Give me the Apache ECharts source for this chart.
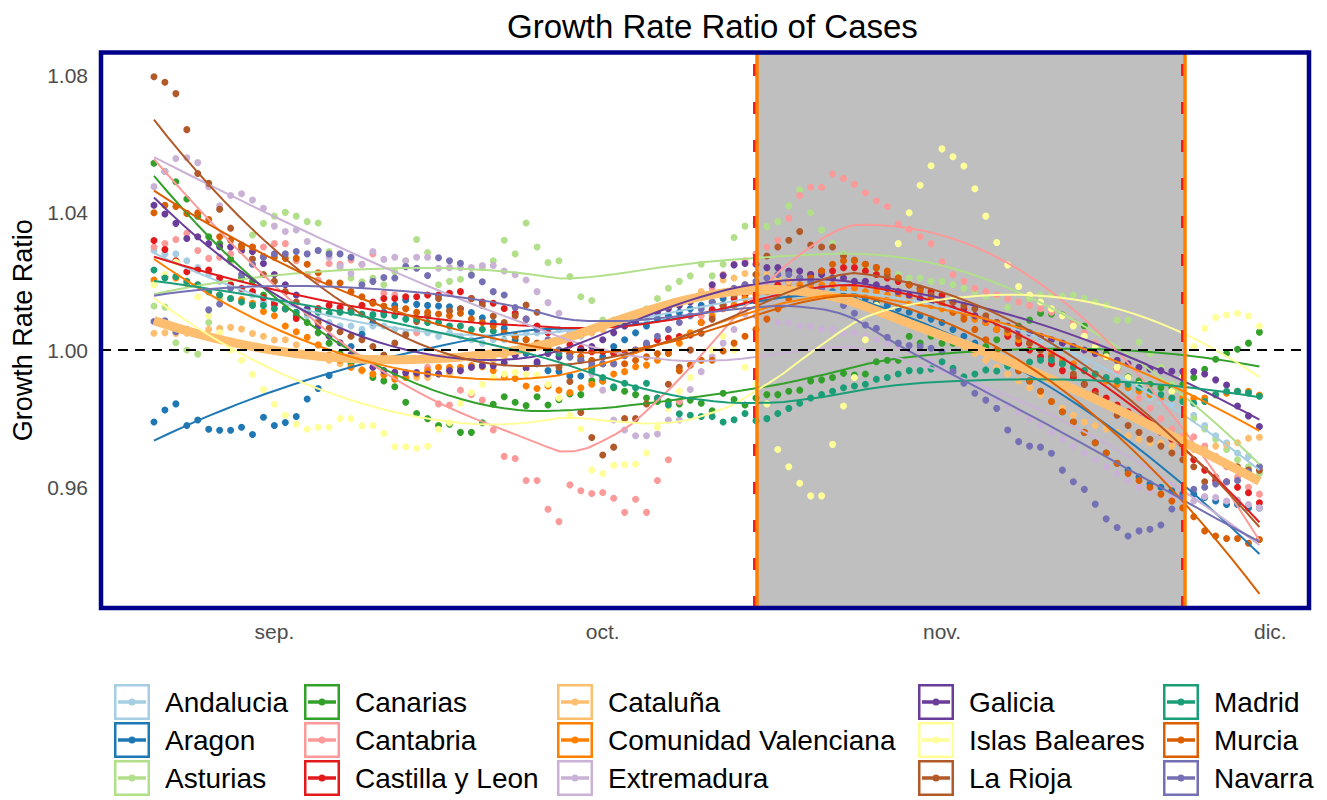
<!DOCTYPE html>
<html><head><meta charset="utf-8">
<script src="https://cdn.jsdelivr.net/npm/echarts@6/dist/echarts.min.js"></script>
<style>html,body{margin:0;padding:0;background:#fff}#c{width:1327px;height:800px}</style>
</head><body><div id="c"></div>
<script>
// Day index 0 = 21 Aug 2020 ... 101 = 30 Nov 2020
const regions = ['Andalucia','Aragon','Asturias','Canarias','Cantabria','Castilla y Leon','Cataluña','Comunidad Valenciana','Extremadura','Galicia','Islas Baleares','La Rioja','Madrid','Murcia','Navarra'];
const colors = ['#A6CEE3','#1F78B4','#B2DF8A','#33A02C','#FB9A99','#E31A1C','#FDBF6F','#FF7F00','#CAB2D6','#6A3D9A','#FFFF99','#B15928','#1B9E77','#D95F02','#7570B3'];
const xTickDays = [11, 41, 72, 102];
const xTickLabels = ['sep.', 'oct.', 'nov.', 'dic.'];
const yTicks = [0.96, 1.00, 1.04, 1.08];
const shadeStart = 55.05, shadeEnd = 94.15;

const andalucia = [1.029,1.028,1.028,1.026,1.024,1.022,1.020,1.019,1.017,1.016,
 1.014,1.013,1.012,1.011,1.010,1.009,1.008,1.007,1.007,1.006,
 1.007,1.007,1.006,1.005,1.006,1.005,1.004,1.005,1.004,1.003,
 1.002,1.003,1.003,1.004,1.005,1.005,1.006,1.006,1.005,1.004,
 1.005,1.006,1.007,1.008,1.008,1.009,1.010,1.010,1.010,1.010,
 1.011,1.012,1.013,1.014,1.015,1.016,1.017,1.018,1.018,1.019,
 1.019,1.019,1.019,1.019,1.018,1.018,1.017,1.017,1.016,1.016,
 1.015,1.014,1.013,1.012,1.011,1.010,1.009,1.008,1.007,1.006,
 1.005,1.003,1.002,1.000,0.998,0.996,0.994,0.992,0.990,0.988,
 0.987,0.986,0.985,0.984,0.983,0.981,0.978,0.975,0.973,0.970,
 0.969,0.966];
const aragon = [0.979,0.9825,0.9843,0.978,0.9796,0.9769,0.9766,0.9766,0.9775,0.9754,
 0.9804,0.978,0.9789,0.9806,0.9857,0.9888,0.9926,0.997,1.001,1.0046,
 1.008,1.011,1.013,1.0146,1.0133,1.013,1.0128,1.0126,1.012,1.0109,
 1.0094,1.008,1.0063,1.003,0.999,0.996,0.994,0.9937,0.9924,0.9924,
 0.995,0.998,1.001,1.003,1.005,1.007,1.009,1.010,1.011,1.012,
 1.013,1.014,1.015,1.016,1.017,1.017,1.018,1.018,1.018,1.018,
 1.018,1.018,1.017,1.017,1.016,1.015,1.014,1.013,1.012,1.011,
 1.010,1.009,1.008,1.006,1.004,1.002,1.000,0.998,0.996,0.994,
 0.991,0.988,0.985,0.982,0.979,0.976,0.973,0.970,0.967,0.965,
 0.963,0.961,0.960,0.959,0.958,0.958,0.957,0.956,0.955,0.955,
 0.954,0.954];
const asturias = [1.0128,1.0125,1.0021,1.000,0.9988,1.008,1.015,1.0256,1.030,1.0335,
 1.0369,1.039,1.0401,1.039,1.0374,1.037,1.0287,1.024,1.021,1.0199,
 1.021,1.019,1.0228,1.026,1.0322,1.0284,1.019,1.020,1.0206,1.022,
 1.024,1.026,1.032,1.028,1.037,1.030,1.0255,1.026,1.0214,1.0155,
 1.0144,1.0087,1.0087,1.007,1.009,1.012,1.015,1.018,1.020,1.0216,
 1.025,1.0216,1.025,1.0328,1.0361,1.037,1.036,1.0374,1.042,1.0467,
 1.040,1.035,1.031,1.028,1.026,1.024,1.023,1.022,1.022,1.021,
 1.021,1.020,1.020,1.019,1.018,1.017,1.0157,1.0157,1.0124,1.014,
 1.015,1.016,1.016,1.0157,1.016,1.015,1.014,1.013,1.0087,1.0087,
 1.0023,0.999,0.995,0.990,0.985,0.980,0.977,0.974,0.971,0.968,
 0.966,0.964];
const canarias = [1.0544,1.052,1.049,1.044,1.039,1.033,1.031,1.0265,1.021,1.020,
 1.016,1.014,1.012,1.010,1.008,1.005,1.002,0.999,0.996,0.994,
 0.992,0.991,0.9893,0.9848,0.9815,0.980,0.978,0.9784,0.976,0.976,
 0.9788,0.9842,0.9864,0.9848,0.9838,0.9864,0.984,0.9855,0.9872,0.987,
 0.991,0.991,0.989,0.988,0.987,0.986,0.985,0.985,0.9843,0.9854,
 0.9845,0.9823,0.9874,0.9856,0.984,0.986,0.987,0.987,0.988,0.9883,
 0.991,0.9913,0.992,0.9932,0.9927,0.993,0.9966,0.997,0.997,1.004,
 1.002,1.004,1.002,1.002,1.001,1.000,1.001,1.003,1.005,1.007,
 1.0087,1.0107,1.0105,1.0102,1.008,1.007,1.001,0.999,0.9947,0.9922,
 0.991,0.990,0.989,0.989,0.990,0.992,0.9944,0.9973,0.999,1.0002,
 1.002,1.0052];
const cantabria = [1.030,1.031,1.0322,1.034,1.029,1.0267,1.027,1.028,1.029,1.030,
 1.030,1.031,1.031,1.026,1.022,1.0204,1.0252,1.025,1.0262,1.025,
 1.028,1.0165,1.016,1.012,1.005,0.995,0.9843,0.984,0.9883,0.987,
 0.9854,0.9767,0.969,0.9684,0.962,0.962,0.9536,0.950,0.9607,0.959,
 0.9582,0.9585,0.9568,0.9527,0.9565,0.9527,0.962,0.968,0.985,1.000,
 1.010,1.018,1.022,1.025,1.026,1.028,1.030,1.032,1.0384,1.045,
 1.0474,1.0474,1.0513,1.050,1.0483,1.0458,1.0435,1.0418,1.0367,1.0352,
 1.033,1.031,1.0257,1.022,1.020,1.018,1.017,1.016,1.015,1.014,
 1.013,1.012,1.011,1.010,1.008,1.005,1.002,0.998,0.994,0.990,
 0.986,0.983,0.980,0.977,0.975,0.9747,0.972,0.969,0.966,0.963,
 0.960,0.958];
const castillaYLeon = [1.0319,1.0293,1.026,1.0228,1.0233,1.0233,1.021,1.019,1.018,1.017,
 1.0152,1.0133,1.012,1.0092,1.011,1.0121,1.013,1.0124,1.0117,1.013,
 1.014,1.015,1.015,1.0155,1.0155,1.016,1.016,1.0165,1.017,1.015,
 1.014,1.0136,1.0121,1.0107,1.009,1.007,1.005,1.0029,1.0015,1.0005,
 0.9995,0.9995,0.999,0.9988,1.000,1.0015,1.0029,1.0034,1.0039,1.0044,
 1.008,1.0117,1.013,1.015,1.016,1.017,1.018,1.019,1.020,1.021,
 1.022,1.023,1.023,1.024,1.024,1.023,1.022,1.021,1.020,1.019,
 1.018,1.017,1.016,1.014,1.012,1.010,1.008,1.006,1.004,1.002,
 1.000,0.998,0.996,0.994,0.992,0.990,0.988,0.986,0.984,0.982,
 0.980,0.978,0.976,0.974,0.972,0.968,0.965,0.962,0.9616,0.960,
 0.9584,0.9555];
const cataluna = [1.0049,1.005,1.0048,1.0049,1.005,1.006,1.0063,1.0066,1.0061,1.0048,
 1.004,1.0029,1.003,1.0015,0.999,0.998,0.997,0.996,0.995,0.994,
 0.993,0.993,0.992,0.992,0.992,0.992,0.993,0.993,0.994,0.995,
 0.996,0.997,0.998,0.999,1.000,1.001,1.002,1.003,1.004,1.0044,
 1.005,1.006,1.007,1.008,1.009,1.010,1.011,1.012,1.0136,1.015,
 1.017,1.019,1.0204,1.021,1.0223,1.022,1.022,1.021,1.020,1.019,
 1.018,1.017,1.016,1.015,1.014,1.013,1.012,1.011,1.010,1.009,
 1.008,1.006,1.005,1.003,1.001,0.999,0.997,0.995,0.993,0.991,
 0.989,0.987,0.985,0.983,0.981,0.979,0.978,0.977,0.976,0.975,
 0.974,0.973,0.973,0.972,0.972,0.971,0.971,0.972,0.9723,0.973,
 0.9743,0.9746];
const comunidadValenciana = [1.0204,1.0214,1.021,1.0194,1.019,1.017,1.016,1.015,1.0147,1.0136,
 1.0112,1.010,1.007,1.0053,1.0037,1.0015,0.9985,0.997,0.995,0.9942,
 0.993,0.9927,0.9915,0.992,0.993,0.994,0.995,0.995,0.995,0.9955,
 0.9951,0.994,0.9922,0.9917,0.9895,0.9888,0.9895,0.9883,0.9876,0.989,
 0.990,0.991,0.993,0.9937,0.9951,0.9956,0.997,0.999,1.002,1.005,
 1.008,1.010,1.012,1.013,1.015,1.016,1.017,1.018,1.018,1.019,
 1.019,1.019,1.019,1.018,1.018,1.017,1.017,1.016,1.016,1.015,
 1.014,1.013,1.012,1.011,1.010,1.009,1.008,1.006,1.005,1.003,
 1.002,1.000,0.999,0.997,0.996,0.994,0.993,0.991,0.990,0.989,
 0.988,0.987,0.986,0.986,0.986,0.9859,0.986,0.987,0.9874,0.988,
 0.988,0.9869];
const extremadura = [1.0476,1.052,1.0558,1.056,1.0546,1.0476,1.042,1.045,1.0455,1.0437,
 1.0413,1.0361,1.0345,1.035,1.0316,1.029,1.027,1.0245,1.0223,1.025,
 1.0287,1.0264,1.027,1.026,1.027,1.027,1.0238,1.024,1.024,1.024,
 1.0246,1.0246,1.023,1.0219,1.0204,1.017,1.0138,1.0107,1.005,0.998,
 0.993,0.9883,0.9796,0.9767,0.975,0.975,0.9755,0.9796,0.9796,0.9885,
 0.9937,0.998,1.002,1.006,1.0105,1.010,1.009,1.008,1.008,1.007,
 1.007,1.006,1.006,1.005,1.005,1.004,1.003,1.002,1.001,1.000,
 0.999,0.997,0.996,0.994,0.992,0.990,0.988,0.986,0.984,0.982,
 0.980,0.978,0.976,0.974,0.972,0.970,0.968,0.966,0.964,0.962,
 0.960,0.959,0.958,0.957,0.956,0.956,0.9573,0.957,0.956,0.9563,
 0.955,0.954];
const galicia = [1.0422,1.0396,1.0369,1.0325,1.033,1.031,1.0301,1.030,1.029,1.0287,
 1.0252,1.022,1.019,1.016,1.012,1.0068,1.004,1.0021,0.9987,0.997,
 0.995,0.994,0.9935,0.9934,0.9934,0.993,0.993,0.994,0.994,0.995,
 0.9954,0.9954,0.9963,0.9985,0.9947,0.9966,0.999,0.998,0.999,1.000,
 1.001,1.003,1.005,1.007,1.008,1.010,1.011,1.012,1.013,1.014,
 1.0158,1.019,1.0217,1.0248,1.0252,1.025,1.024,1.024,1.023,1.023,
 1.022,1.022,1.021,1.021,1.020,1.020,1.019,1.018,1.017,1.016,
 1.015,1.014,1.013,1.012,1.011,1.010,1.009,1.008,1.007,1.006,
 1.005,1.004,1.003,1.002,1.001,1.000,0.999,0.998,0.997,0.996,
 0.995,0.9945,0.994,0.9938,0.9937,0.9937,0.993,0.9913,0.9898,0.9837,
 0.9808,0.9777];
const islasBaleares = [1.019,1.022,1.0256,1.020,1.0155,1.010,1.005,1.000,0.997,0.9929,
 0.9885,0.9842,0.981,0.9784,0.9769,0.9775,0.9775,0.980,0.980,0.9779,
 0.978,0.9757,0.9718,0.9718,0.9714,0.972,0.9769,0.9788,0.9845,0.9876,
 0.990,0.992,0.993,0.9935,0.993,0.9927,0.990,0.986,0.981,0.977,
 0.965,0.964,0.9664,0.9666,0.9667,0.970,0.9775,0.983,0.988,0.992,
 0.997,1.000,1.004,1.000,0.995,0.990,0.9843,0.971,0.966,0.9612,
 0.9575,0.9575,0.9725,0.9837,0.992,1.003,1.013,1.022,1.031,1.040,
 1.048,1.0537,1.0586,1.0563,1.0536,1.047,1.039,1.0313,1.0248,1.0185,
 1.016,1.014,1.012,1.010,1.007,1.004,1.001,0.998,0.995,0.992,
 0.990,0.988,0.987,0.988,0.992,1.001,1.0063,1.0095,1.0102,1.0107,
 1.0099,1.007];
const laRioja = [1.0796,1.078,1.0747,1.0642,1.0514,1.0486,1.041,1.0355,1.0306,1.0265,
 1.022,1.020,1.017,1.014,1.011,1.008,1.0063,1.0053,1.004,1.003,
 1.001,0.9985,1.002,1.0044,1.0083,1.010,1.015,1.0114,1.012,1.015,
 1.013,1.0099,1.008,1.010,1.0131,1.011,1.002,0.995,0.9908,0.9818,
 0.9745,0.9694,0.9717,0.980,0.980,0.9843,0.986,0.990,0.995,1.000,
 1.0049,1.009,1.013,1.016,1.019,1.022,1.0274,1.030,1.032,1.0345,
 1.0306,1.030,1.030,1.0274,1.0262,1.025,1.024,1.022,1.021,1.019,
 1.018,1.016,1.0145,1.014,1.013,1.012,1.010,1.008,1.006,1.004,
 1.002,1.000,0.998,0.996,0.993,0.990,0.987,0.984,0.981,0.978,
 0.976,0.974,0.972,0.970,0.968,0.966,0.9616,0.963,0.9665,0.966,
 0.965,0.965];
const madrid = [1.0233,1.021,1.0214,1.020,1.019,1.017,1.016,1.015,1.014,1.013,
 1.013,1.012,1.012,1.011,1.011,1.011,1.0107,1.011,1.011,1.0105,
 1.0103,1.0102,1.010,1.009,1.009,1.008,1.008,1.007,1.007,1.006,
 1.006,1.0055,1.0049,1.004,1.003,1.0015,1.000,0.999,0.998,0.997,
 0.994,0.992,0.9893,0.9903,0.989,0.9903,0.986,0.984,0.9814,0.981,
 0.9806,0.9806,0.979,0.9797,0.9815,0.9794,0.980,0.9815,0.983,0.9845,
 0.986,0.987,0.988,0.989,0.9895,0.990,0.9915,0.992,0.993,0.994,
 0.994,0.9945,0.9966,0.9947,0.9922,0.993,0.9942,0.9939,0.9953,0.996,
 0.9965,0.997,0.997,0.996,0.995,0.994,0.993,0.992,0.991,0.990,
 0.989,0.988,0.987,0.986,0.985,0.9845,0.985,0.987,0.988,0.988,
 0.9875,0.9865];
const murcia = [1.040,1.0422,1.0418,1.0398,1.040,1.038,1.033,1.032,1.0301,1.030,
 1.0272,1.027,1.0267,1.0267,1.025,1.0225,1.0196,1.0195,1.017,1.0155,
 1.0136,1.0128,1.012,1.012,1.011,1.011,1.0105,1.010,1.0107,1.009,
 1.008,1.007,1.005,1.004,1.003,1.002,1.001,1.000,0.999,0.998,
 0.997,0.996,0.996,0.996,0.997,0.998,0.999,0.9991,0.994,0.9956,
 0.997,0.997,0.9997,1.002,1.004,1.006,1.009,1.012,1.015,1.018,
 1.021,1.023,1.025,1.026,1.026,1.025,1.024,1.023,1.021,1.019,
 1.017,1.015,1.013,1.011,1.009,1.006,1.003,1.000,0.997,0.994,
 0.991,0.988,0.985,0.982,0.979,0.976,0.973,0.970,0.967,0.964,
 0.962,0.960,0.958,0.956,0.954,0.9514,0.9473,0.9458,0.9451,0.9451,
 0.9437,0.9448];
const navarra = [1.0083,1.0085,1.0053,1.006,1.005,1.0117,1.0134,1.018,1.022,1.025,
 1.027,1.028,1.028,1.0287,1.028,1.029,1.028,1.028,1.027,1.019,
 1.020,1.0211,1.021,1.0243,1.0238,1.0217,1.0269,1.026,1.0253,1.0218,
 1.0199,1.017,1.016,1.0124,1.009,1.006,1.003,1.000,0.998,0.997,
 0.996,0.996,0.996,0.9983,1.000,1.002,1.004,1.006,1.008,1.010,
 1.012,1.014,1.016,1.018,1.019,1.020,1.021,1.022,1.022,1.021,
 1.020,1.018,1.016,1.013,1.0107,1.0073,1.0063,1.0037,1.002,1.0013,
 1.001,1.0005,0.9995,0.9937,0.9903,0.9874,0.9854,0.983,0.9767,0.9733,
 0.972,0.9717,0.9699,0.965,0.9616,0.9594,0.9551,0.9508,0.9483,0.9458,
 0.9473,0.9478,0.949,0.9537,0.957,0.9594,0.960,0.961,0.9616,0.962,
 0.9645,0.966];

const pointSets = [andalucia,aragon,asturias,canarias,cantabria,castillaYLeon,cataluna,comunidadValenciana,extremadura,galicia,islasBaleares,laRioja,madrid,murcia,navarra];

// LOESS smoother (degree 2, tricube weights, span 0.75), as used by geom_smooth
function loess(ys, span, nOut) {
  const n = ys.length;
  const q = Math.floor(n * span);
  const out = [];
  for (let k = 0; k < nOut; k++) {
    const x0 = (n - 1) * k / (nOut - 1);
    const d = ys.map((_, i) => Math.abs(i - x0));
    const h = d.slice().sort((a, b) => a - b)[q - 1] * 1.0000001 + 1e-9;
    let s0=0,s1=0,s2=0,s3=0,s4=0,t0=0,t1=0,t2=0;
    for (let i = 0; i < n; i++) {
      const r = d[i] / h;
      if (r >= 1) continue;
      const w = Math.pow(1 - r*r*r, 3);
      const u = i - x0;
      s0+=w; s1+=w*u; s2+=w*u*u; s3+=w*u*u*u; s4+=w*u*u*u*u;
      t0+=w*ys[i]; t1+=w*u*ys[i]; t2+=w*u*u*ys[i];
    }
    const det = s0*(s2*s4-s3*s3) - s1*(s1*s4-s3*s2) + s2*(s1*s3-s2*s2);
    const det0 = t0*(s2*s4-s3*s3) - s1*(t1*s4-s3*t2) + s2*(t1*s3-s2*t2);
    out.push([x0, det0/det]);
  }
  return out;
}

const FONT = '"Liberation Sans", Arial, Helvetica, sans-serif';
const keyIcon = 'path://M0 0H36V36H0Z M2.5 2.5V33.5H33.5V2.5Z M4 16.3H32V19.7H4Z M14.5 18A3.5 3.5 0 1 1 21.5 18A3.5 3.5 0 1 1 14.5 18Z';

const series = [];
series.push({type:'line', name:'_ref', data:[], z:1, silent:true,
  markLine:{silent:true, symbol:['none','none'], label:{show:false}, animation:false,
    lineStyle:{color:'#000', width:2, type:[10,7]}, data:[{yAxis:1}]}});
regions.forEach((r,k)=>{
  series.push({type:'scatter', name:r, data:pointSets[k].map((v,i)=>[i,v]), symbol:'circle', symbolSize:7,
    itemStyle:{color:colors[k], opacity:1, borderWidth:0}, z:2, silent:true});
});
regions.forEach((r,k)=>{
  series.push({type:'line', name:r, data:loess(pointSets[k], 0.75, 80), smooth:false,
    showSymbol:false, symbol:'none', lineStyle:{color:colors[k], width: r==='Cataluña'?9:2}, itemStyle:{color:colors[k]}, z:3, silent:true});
});
series.push({type:'line', name:'_shade', data:[], z:10, silent:true,
  markArea:{silent:true, itemStyle:{color:'rgba(127,127,127,0.5)'}, data:[[{xAxis:shadeStart},{xAxis:shadeEnd}]]}});
series.push({type:'line', name:'_vred', data:[], z:11, silent:true,
  markLine:{silent:true, symbol:['none','none'], label:{show:false}, animation:false,
    lineStyle:{color:'#FF1A1A', width:4, type:[12,26]}, data:[{xAxis:shadeStart-0.12},{xAxis:shadeEnd-0.12}]}});
series.push({type:'line', name:'_vorange', data:[], z:12, silent:true,
  markLine:{silent:true, symbol:['none','none'], label:{show:false}, animation:false,
    lineStyle:{color:'#FF7F00', width:3.5, type:'solid'}, data:[{xAxis:shadeStart},{xAxis:shadeEnd}]}});

const legendCols = [[0,1,2],[3,4,5],[6,7,8],[9,10,11],[12,13,14]];
const legendLeft = [114,304,557,918,1163];

const option = {
  animation:false,
  backgroundColor:'#fff',
  textStyle:{fontFamily:FONT},
  title:{text:'Growth Rate Ratio of Cases', left:502, top:5,
    textStyle:{fontSize:33, fontWeight:'normal', color:'#000', fontFamily:FONT}},
  grid:{left:101, top:52.5, width:1208, height:555.5, show:false, outerBoundsMode:'none'},
  xAxis:{type:'value', min:-4.84, max:105.53,
    axisLine:{show:false}, splitLine:{show:false}, axisTick:{show:false},
    axisLabel:{customValues:xTickDays, formatter:(v)=>xTickLabels[xTickDays.indexOf(v)], fontSize:21, color:'#4D4D4D', margin:13, fontFamily:FONT}},
  yAxis:{type:'value', min:0.92483, max:1.08668,
    axisLine:{show:false}, splitLine:{show:false}, axisTick:{show:false},
    axisLabel:{customValues:yTicks, formatter:(v)=>v.toFixed(2), fontSize:21, color:'#4D4D4D', margin:13, fontFamily:FONT},
    name:'Growth Rate Ratio', nameLocation:'middle', nameGap:60,
    nameTextStyle:{fontSize:27, color:'#000', fontFamily:FONT}},
  legend: legendCols.map((idx,c)=>({
    orient:'vertical', left:legendLeft[c], top:684, padding:0, itemWidth:36, itemHeight:36, itemGap:2,
    icon:keyIcon, selectedMode:false, data:idx.map(i=>regions[i]),
    itemStyle:{borderWidth:0},
    textStyle:{fontSize:28, color:'#000', fontFamily:FONT, padding:[0,0,0,10]}
  })),
  graphic:[{type:'rect', shape:{x:101, y:52.5, width:1208, height:555.5}, silent:true, z:100,
    style:{fill:'none', stroke:'#00008B', lineWidth:4.5}}],
  series: series
};
const chart = echarts.init(document.getElementById('c'), null, {renderer:'svg'});
chart.setOption(option);
</script></body></html>
